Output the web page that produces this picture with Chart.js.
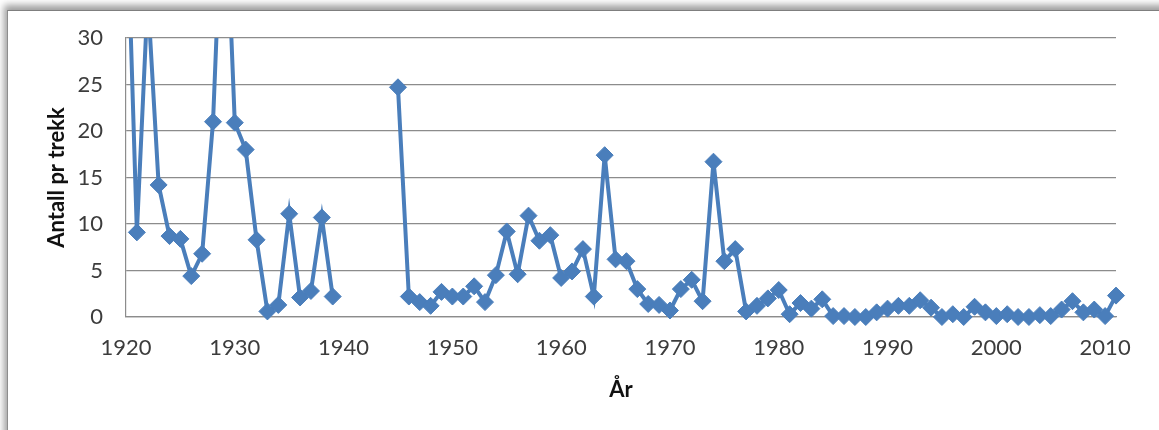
<!DOCTYPE html>
<html lang="no">
<head>
<meta charset="utf-8">
<title>Antall pr trekk</title>
<script src="https://cdn.jsdelivr.net/npm/chart.js@4/dist/chart.umd.min.js"></script>
<style>
  html, body { margin: 0; padding: 0; background: #ffffff; overflow: hidden; }
  .frame {
    position: absolute; left: 7px; top: 10px; width: 1220px; height: 480px;
    background: #ffffff;
    border-left: 1px solid #8d8d8d; border-top: 1px solid #7f7f7f;
    box-shadow: -3px -5px 7px rgba(0, 0, 0, 0.38);
  }
  .holder { position: absolute; left: 0; top: 0; width: 1159px; height: 430px; }
</style>
</head>
<body>
<div class="frame"></div>
<div class="holder"><canvas id="chart"></canvas></div>
<script>
// Catch per haul, by year (1940-1944: no surveys)
const years = [
  1920, 1921, 1922, 1923, 1924, 1925, 1926, 1927, 1928, 1929,
  1930, 1931, 1932, 1933, 1934, 1935, 1936, 1937, 1938, 1939,
  1940, 1941, 1942, 1943, 1944, 1945, 1946, 1947, 1948, 1949,
  1950, 1951, 1952, 1953, 1954, 1955, 1956, 1957, 1958, 1959,
  1960, 1961, 1962, 1963, 1964, 1965, 1966, 1967, 1968, 1969,
  1970, 1971, 1972, 1973, 1974, 1975, 1976, 1977, 1978, 1979,
  1980, 1981, 1982, 1983, 1984, 1985, 1986, 1987, 1988, 1989,
  1990, 1991, 1992, 1993, 1994, 1995, 1996, 1997, 1998, 1999,
  2000, 2001, 2002, 2003, 2004, 2005, 2006, 2007, 2008, 2009,
  2010, 2011
];
const antallPrTrekk = [
  47.0, 9.1, 34.5, 14.2, 8.7, 8.4, 4.4, 6.8, 21.0, 50.0,
  20.9, 18.0, 8.3, 0.6, 1.3, 11.1, 2.1, 2.8, 10.7, 2.2,
  null, null, null, null, null, 24.7, 2.2, 1.6, 1.2, 2.7,
  2.2, 2.2, 3.3, 1.6, 4.5, 9.2, 4.6, 10.9, 8.2, 8.8,
  4.2, 4.9, 7.3, 2.2, 17.4, 6.2, 6.0, 3.0, 1.4, 1.3,
  0.7, 3.0, 4.0, 1.7, 16.7, 6.0, 7.3, 0.6, 1.2, 2.0,
  2.9, 0.3, 1.5, 0.9, 1.9, 0.1, 0.1, 0.0, 0.0, 0.5,
  0.9, 1.2, 1.2, 1.8, 1.0, 0.0, 0.3, 0.0, 1.1, 0.5,
  0.1, 0.3, 0.0, 0.0, 0.2, 0.1, 0.8, 1.7, 0.5, 0.8,
  0.1, 2.3
];
const xTickYears = [1920, 1930, 1940, 1950, 1960, 1970, 1980, 1990, 2000, 2010];
const yTickValues = [0, 5, 10, 15, 20, 25, 30];

const blue = '#4a7ebb';
const gridGrey = '#8c8c8c';
const tickFont = { family: 'Lato', size: 22 };
const titleFont = { family: 'Lato', size: 22, weight: 'bold' };

new Chart(document.getElementById('chart'), {
  type: 'line',
  data: {
    datasets: [{
      data: years.map((y, i) => ({ x: y, y: antallPrTrekk[i] })),
      borderColor: blue,
      backgroundColor: blue,
      borderWidth: 4,
      tension: 0,
      spanGaps: false,
      pointStyle: 'rectRot',
      pointRadius: 8.5,
      pointBorderWidth: 1,
      pointBorderColor: blue,
      pointBackgroundColor: blue,
      clip: { top: 0, left: 12, right: 12, bottom: 12 }
    }]
  },
  options: {
    responsive: true,
    maintainAspectRatio: false,
    animation: false,
    events: [],
    layout: { padding: { top: 38, right: 43, bottom: 0, left: 0 } },
    plugins: { legend: { display: false }, tooltip: { enabled: false } },
    scales: {
      x: {
        type: 'linear',
        min: 1920,
        max: 2011,
        afterBuildTicks: (s) => { s.ticks = xTickYears.map(v => ({ value: v })); },
        afterFit: (s) => { s.height = 113; },
        grid: { display: false, drawTicks: false },
        border: { display: true, color: gridGrey, width: 1.2 },
        ticks: {
          autoSkip: false, maxRotation: 0, padding: 18,
          color: '#3c3c3c', font: tickFont,
          callback: (v) => String(v)
        },
        title: {
          display: true, text: 'År', color: '#111111', font: titleFont,
          padding: { top: 0, bottom: 27 }
        }
      },
      y: {
        type: 'linear',
        min: 0,
        max: 30,
        afterBuildTicks: (s) => { s.ticks = yTickValues.map(v => ({ value: v })); },
        afterFit: (s) => { s.width = 126; },
        grid: { color: gridGrey, lineWidth: 1.2, drawTicks: false },
        border: { display: true, color: gridGrey, width: 1.2 },
        ticks: { padding: 23, color: '#3c3c3c', font: tickFont },
        title: {
          display: true, text: 'Antall pr trekk', color: '#111111', font: titleFont,
          padding: { top: 44, bottom: 0 }
        }
      }
    }
  }
});
</script>
</body>
</html>
